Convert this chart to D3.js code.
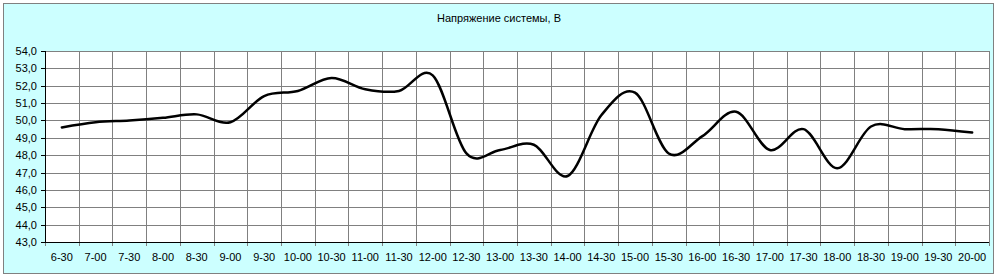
<!DOCTYPE html>
<html><head><meta charset="utf-8">
<script src="https://cdn.jsdelivr.net/npm/d3@7/dist/d3.min.js"></script>
<style>
html,body{margin:0;padding:0;background:#ffffff;}
svg{display:block;font-family:"Liberation Sans",Arial,sans-serif;}
</style></head>
<body>
<svg id="chart" width="1000" height="278"></svg>
<script>
const title = "Напряжение системы, В";
const categories = ["6-30","7-00","7-30","8-00","8-30","9-00","9-30","10-00","10-30","11-00","11-30","12-00","12-30","13-00","13-30","14-00","14-30","15-00","15-30","16-00","16-30","17-00","17-30","18-00","18-30","19-00","19-30","20-00"];
const voltage = [49.6,49.9,50.0,50.15,50.35,49.9,51.4,51.7,52.45,51.8,51.7,52.6,48.1,48.3,48.6,46.8,50.3,51.6,48.1,49.1,50.5,48.3,49.5,47.25,49.65,49.5,49.5,49.3];
const yTicks = [43,44,45,46,47,48,49,50,51,52,53,54];

const svg = d3.select("#chart");
const W = 1000, H = 278;
const plot = {left:45, right:989, top:51, bottom:242};

svg.append("rect").attr("x",3.5).attr("y",3.5).attr("width",990).attr("height",270)
  .attr("fill","#ccffff").attr("stroke","#808080").attr("stroke-width",1);

const x = d3.scaleBand().domain(categories).range([plot.left, plot.right]).padding(0);
const y = d3.scaleLinear().domain([43,54]).range([plot.bottom, plot.top]);

svg.append("rect").attr("x",plot.left).attr("y",plot.top)
  .attr("width",plot.right-plot.left).attr("height",plot.bottom-plot.top).attr("fill","#ffffff");

const g = svg.append("g");
// horizontal grid
g.selectAll(".hg").data(yTicks).join("line")
  .attr("x1",plot.left).attr("x2",plot.right)
  .attr("y1",d=>Math.round(y(d))+0.5).attr("y2",d=>Math.round(y(d))+0.5)
  .attr("stroke","#808080").attr("stroke-width",1);
// vertical grid at category boundaries
const bounds = categories.map(c=>x(c)).concat([plot.right]);
g.selectAll(".vg").data(bounds).join("line")
  .attr("x1",d=>Math.round(d)+0.5).attr("x2",d=>Math.round(d)+0.5)
  .attr("y1",plot.top).attr("y2",plot.bottom+4)
  .attr("stroke","#808080").attr("stroke-width",1);
// y ticks
g.selectAll(".yt").data(yTicks).join("line")
  .attr("x1",plot.left-4).attr("x2",plot.left)
  .attr("y1",d=>Math.round(y(d))+0.5).attr("y2",d=>Math.round(y(d))+0.5)
  .attr("stroke","#000").attr("stroke-width",1);
// axis lines
g.append("line").attr("x1",plot.left+0.5).attr("x2",plot.left+0.5).attr("y1",plot.top).attr("y2",plot.bottom)
  .attr("stroke","#000");
g.append("line").attr("x1",plot.left).attr("x2",plot.right).attr("y1",Math.round(y(43))+0.5).attr("y2",Math.round(y(43))+0.5)
  .attr("stroke","#000");

// y labels
g.selectAll(".yl").data(yTicks).join("text")
  .attr("x",37).attr("y",d=>y(d)+4)
  .attr("text-anchor","end").attr("font-size",11).attr("fill","#000")
  .text(d=>d3.format(".1f")(d).replace(".",","));
// x labels
g.selectAll(".xl").data(categories).join("text")
  .attr("x",d=>x(d)+x.bandwidth()/2).attr("y",261)
  .attr("text-anchor","middle").attr("font-size",11).attr("fill","#000")
  .text(d=>d);

// title
svg.append("text").attr("x",499).attr("y",22).attr("text-anchor","middle")
  .attr("font-size",11).attr("fill","#000").text(title);

// line
const line = d3.line()
  .x((d,i)=>x(categories[i])+x.bandwidth()/2)
  .y(d=>y(d))
  .curve(d3.curveCardinal.tension(0));
svg.append("path").datum(voltage).attr("d",line)
  .attr("fill","none").attr("stroke","#000").attr("stroke-width",2.5)
  .attr("stroke-linejoin","round").attr("stroke-linecap","round");
</script>
</body></html>
